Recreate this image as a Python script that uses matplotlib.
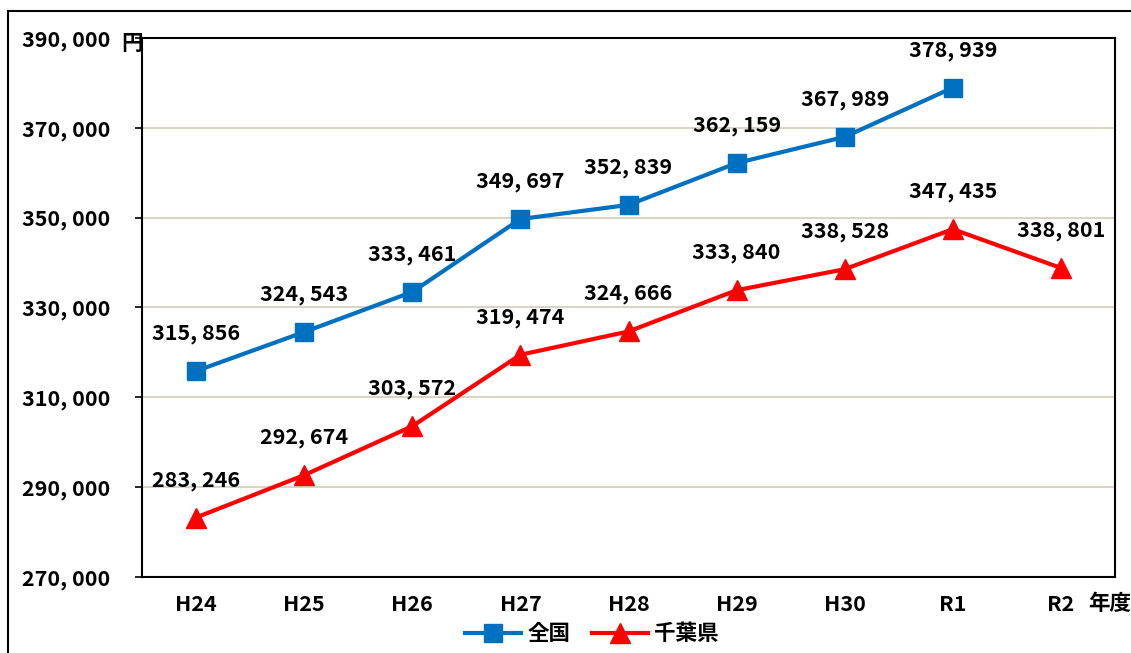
import matplotlib.pyplot as plt
from matplotlib.patches import Rectangle

plt.rcParams['font.family'] = ['Noto Sans CJK JP', 'DejaVu Sans']
plt.rcParams['font.weight'] = 'bold'

years = ['H24', 'H25', 'H26', 'H27', 'H28', 'H29', 'H30', 'R1', 'R2']
zenkoku = [315856, 324543, 333461, 349697, 352839, 362159, 367989, 378939]
chiba = [283246, 292674, 303572, 319474, 324666, 333840, 338528, 347435, 338801]

BLUE = '#0070C0'
RED = '#FF0000'
FS = 15.5

fig = plt.figure(figsize=(11.31, 6.53), dpi=100)
# outer chart frame
fig.patches.append(Rectangle((8 / 1131, -0.1), 1.2, 1 - 11 / 653 + 0.1,
                             transform=fig.transFigure, fill=False,
                             edgecolor='black', linewidth=1.5))
ax = fig.add_axes([142 / 1131, 1 - 577 / 653, (1115 - 142) / 1131, (577 - 38) / 653])

x = list(range(len(years)))
ax.plot(x[:len(zenkoku)], zenkoku, color=BLUE, linewidth=3, marker='s',
        markersize=13, label='全国', zorder=3)
ax.plot(x, chiba, color=RED, linewidth=3, marker='^', markersize=15,
        label='千葉県', zorder=3)

for i, v in enumerate(zenkoku):
    ax.annotate(f'{v:,}'.replace(',', ', '), (i, v), xytext=(0, 27),
                textcoords='offset points', ha='center', va='center', fontsize=FS)
for i, v in enumerate(chiba):
    ax.annotate(f'{v:,}'.replace(',', ', '), (i, v), xytext=(0, 27),
                textcoords='offset points', ha='center', va='center', fontsize=FS)

ax.set_xlim(-0.5, len(years) - 0.5)
ax.set_ylim(270000, 390000)
yt = list(range(270000, 390001, 20000))
ax.set_yticks(yt)
ax.set_yticklabels([f'{v:,}'.replace(',', ', ') for v in yt], fontsize=FS)
ax.set_xticks(x)
ax.set_xticklabels(years, fontsize=FS)
ax.tick_params(axis='y', length=5, width=1.2, pad=18, direction='out')
ax.tick_params(axis='x', length=0, pad=12)
ax.yaxis.grid(True, color='#D9D5C0', linewidth=1.5)
ax.set_axisbelow(True)
for s in ax.spines.values():
    s.set_linewidth(1.5)

fig.text(121 / 1131, 1 - 43 / 653, '円', fontsize=FS, ha='left', va='center')
fig.text(1088 / 1131, 1 - 603 / 653, '年度', fontsize=FS, ha='left', va='center')

fig.legend(loc='center', bbox_to_anchor=(592 / 1131, 1 - 634 / 653), ncol=2,
           frameon=False, fontsize=FS, handlelength=2.6, columnspacing=1.0,
           handletextpad=0.3, borderaxespad=0)

fig.savefig('out.png', dpi=100)
